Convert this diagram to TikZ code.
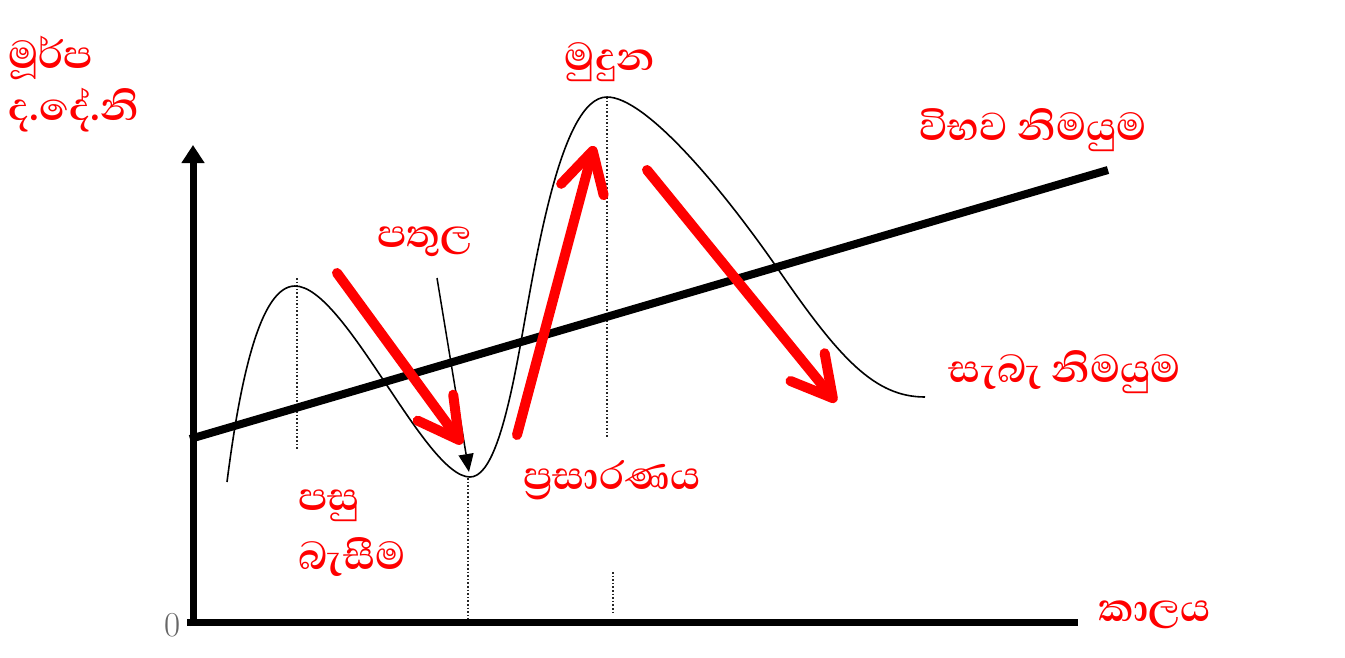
\documentclass[tikz,border=0pt]{standalone}
\usepackage{fontspec}
\newfontfamily\sinfont[Script=Sinhala]{Abhaya Libre}
\usetikzlibrary{arrows.meta}
\definecolor{lred}{RGB}{255,0,0}
\tikzset{
  lbl/.style={text=lred, font=\sinfont\bfseries\fontsize{50}{56}\selectfont, inner sep=0pt},
  redarrow/.style={draw=lred, line width=10pt, line cap=round, -{Straight Barb[length=40pt,width=44pt,round]}},
  axisline/.style={draw=black, line width=7pt},
  guideline/.style={draw=black!85, dotted, line width=1.6pt},
  curveline/.style={draw=black, line width=1.6pt},
  pointer/.style={draw=black, line width=1.5pt, -{Triangle[length=18pt,width=15pt]}}
}
\begin{document}
\begin{tikzpicture}[x=1pt,y=-1pt]
\useasboundingbox[fill=white] (0,0) rectangle (1345,657);
% coordinates
\coordinate (O) at (193,622);
\coordinate (ytop) at (193,145);
\coordinate (xend) at (1078,622);
\coordinate (potL) at (190,439);
\coordinate (potR) at (1108,170);
% guides
\draw[guideline] (297,278) -- (297,450);
\draw[guideline] (468,478) -- (468,620);
\draw[guideline] (607,97) -- (607,438);
\draw[guideline] (613,572) -- (613,612);
% cycle curve
\coordinate (c0) at (227,482);
\coordinate (p1) at (295,286);
\coordinate (t1) at (470,477);
\coordinate (i1) at (520,347);
\coordinate (p2) at (607,97);
\coordinate (i2) at (780,272);
\coordinate (c9) at (925,397);
\draw[curveline] (c0) .. controls (240,380) and (260,286) .. (p1)
  .. controls (345,286) and (425,477) .. (t1)
  .. controls (490,477) and (505,430) .. (i1)
  .. controls (535,265) and (560,97) .. (p2)
  .. controls (645,97) and (720,185) .. (i2)
  .. controls (840,359) and (875,397) .. (c9);
% potential output
\draw[axisline, line width=8pt] (potL) -- (potR);
% axes
\draw[axisline, -{Triangle[length=18pt,width=22pt]}] (193,626) -- (ytop);
\draw[axisline] (187,622) -- (xend);
\node[text=black!60, font=\fontsize{35}{35}\selectfont, inner sep=0pt] (zero) at (173,625) {0};
% trough pointer
\coordinate (ptA) at (437,278);
\coordinate (ptB) at (469,472);
\draw[pointer] (ptA) -- (ptB);
% red arrows
\coordinate (a1s) at (337,273); \coordinate (a1e) at (462,444);
\coordinate (a2s) at (517,435); \coordinate (a2e) at (594,146);
\coordinate (a3s) at (647,170); \coordinate (a3e) at (836,402);
\draw[redarrow] (a1s) -- (a1e);
\draw[redarrow] (a2s) -- (a2e);
\draw[redarrow] (a3s) -- (a3e);
% labels
\node[lbl, anchor=west] (ylab1) at (8,58) {මූර්ප};
\node[lbl, anchor=west] (ylab2) at (8,110) {ද.දේ.නි};
\node[lbl] (peak) at (610,62) {මුදුන};
\node[lbl] (pot) at (1033,130) {විභව නිමයුම};
\node[lbl] (trough) at (425,242) {පතුල};
\node[lbl] (act) at (1065,372) {සැබැ නිමයුම};
\node[lbl] (exp) at (612,480) {ප්^^^^200dරසාරණය};
\node[lbl, anchor=west] (rec1) at (298,506) {පසු};
\node[lbl, anchor=west] (rec2) at (298,557) {බැසීම};
\node[lbl] (time) at (1155,615) {කාලය};
\end{tikzpicture}
\end{document}
